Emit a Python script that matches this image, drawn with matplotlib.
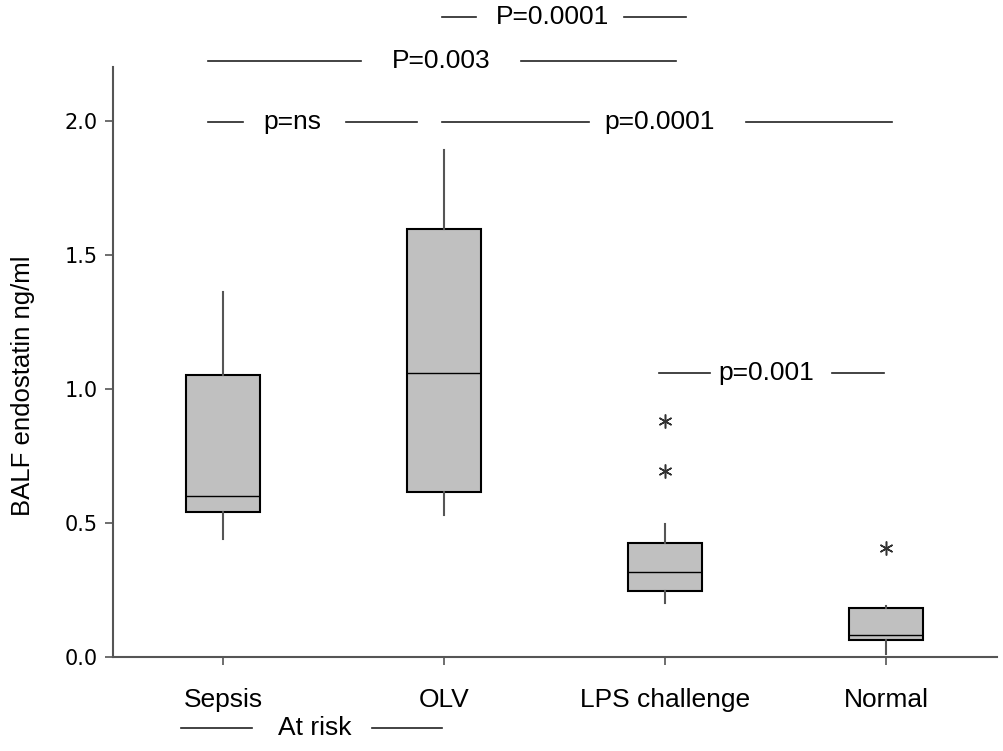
import matplotlib
matplotlib.use("Agg")
import matplotlib.pyplot as plt

groups = ["Sepsis", "OLV", "LPS challenge", "Normal"]
whislo = [0.44, 0.53, 0.20, 0.01]
q1 = [0.54, 0.615, 0.246, 0.063]
med = [0.60, 1.06, 0.317, 0.082]
q3 = [1.05, 1.597, 0.425, 0.183]
whishi = [1.36, 1.89, 0.496, 0.19]
fliers = [[], [], [0.88, 0.694], [0.407]]
yticks = [0.0, 0.5, 1.0, 1.5, 2.0]

# significance annotations: label, text x, y, line segments (data coords)
ann_labels = ["P=0.0001", "P=0.003", "p=ns", "p=0.0001", "p=0.001", "At risk"]
ann_x = [2.487, 1.983, 1.312, 2.975, 3.458, 1.413]
ann_y = [2.388, 2.224, 1.996, 1.996, 1.060, -0.265]
ann_segs = [
    [(1.990, 2.143), (2.812, 3.092)],
    [(0.928, 1.624), (2.347, 3.047)],
    [(0.932, 1.090), (1.556, 1.877)],
    [(1.990, 2.654), (3.363, 4.023)],
    [(2.970, 3.201), (3.752, 3.991)],
    [(0.810, 1.127), (1.673, 1.990)],
]

font = "Liberation Sans"

stats = []
for i, g in enumerate(groups):
    stats.append(dict(label=g, whislo=whislo[i], q1=q1[i], med=med[i],
                      q3=q3[i], whishi=whishi[i], fliers=fliers[i]))

fig = plt.figure(figsize=(10.04, 7.51), dpi=100)
ax = fig.add_axes([0.1125, 0.1252, 0.8805, 0.7856])

ax.bxp(stats, positions=[1, 2, 3, 4], widths=0.335, patch_artist=True,
       showcaps=False,
       boxprops=dict(facecolor="#c0c0c0", edgecolor="black", linewidth=1.5),
       medianprops=dict(color="black", linewidth=1.0),
       whiskerprops=dict(color="#555555", linewidth=1.5),
       flierprops=dict(marker=(6, 2, 0), markersize=10, markeredgecolor="#333333",
                       markeredgewidth=1.1, linestyle="none"))

ax.set_xlim(0.5, 4.5)
ax.set_ylim(0, 2.2)
ax.set_xticks([1, 2, 3, 4])
ax.set_xticklabels(groups)
ax.set_yticks(yticks)
ax.set_yticklabels([f"{v:.1f}" for v in yticks])

for side in ["top", "right"]:
    ax.spines[side].set_visible(False)
for side in ["left", "bottom"]:
    ax.spines[side].set_color("#555555")
    ax.spines[side].set_linewidth(1.5)
ax.tick_params(axis="y", direction="out", length=6, width=1.2, color="#555555", pad=5)
ax.tick_params(axis="x", direction="out", length=6, width=1.2, color="#555555", pad=16)

for t in ax.get_yticklabels():
    t.set_fontfamily("DejaVu Sans")
    t.set_fontsize(15)
for t in ax.get_xticklabels():
    t.set_fontfamily(font)
    t.set_fontsize(19)

ax.set_ylabel("BALF endostatin ng/ml", family=font, fontsize=18.5)
ax.yaxis.set_label_coords(-0.088, 0.46)

for lab, tx, ty, segs in zip(ann_labels, ann_x, ann_y, ann_segs):
    for x0, x1 in segs:
        ax.plot([x0, x1], [ty, ty], color="#222222", linewidth=1.2, clip_on=False)
    ax.text(tx, ty, lab, ha="center", va="center", family=font, fontsize=19,
            clip_on=False)

fig.savefig("out.png", dpi=100)
